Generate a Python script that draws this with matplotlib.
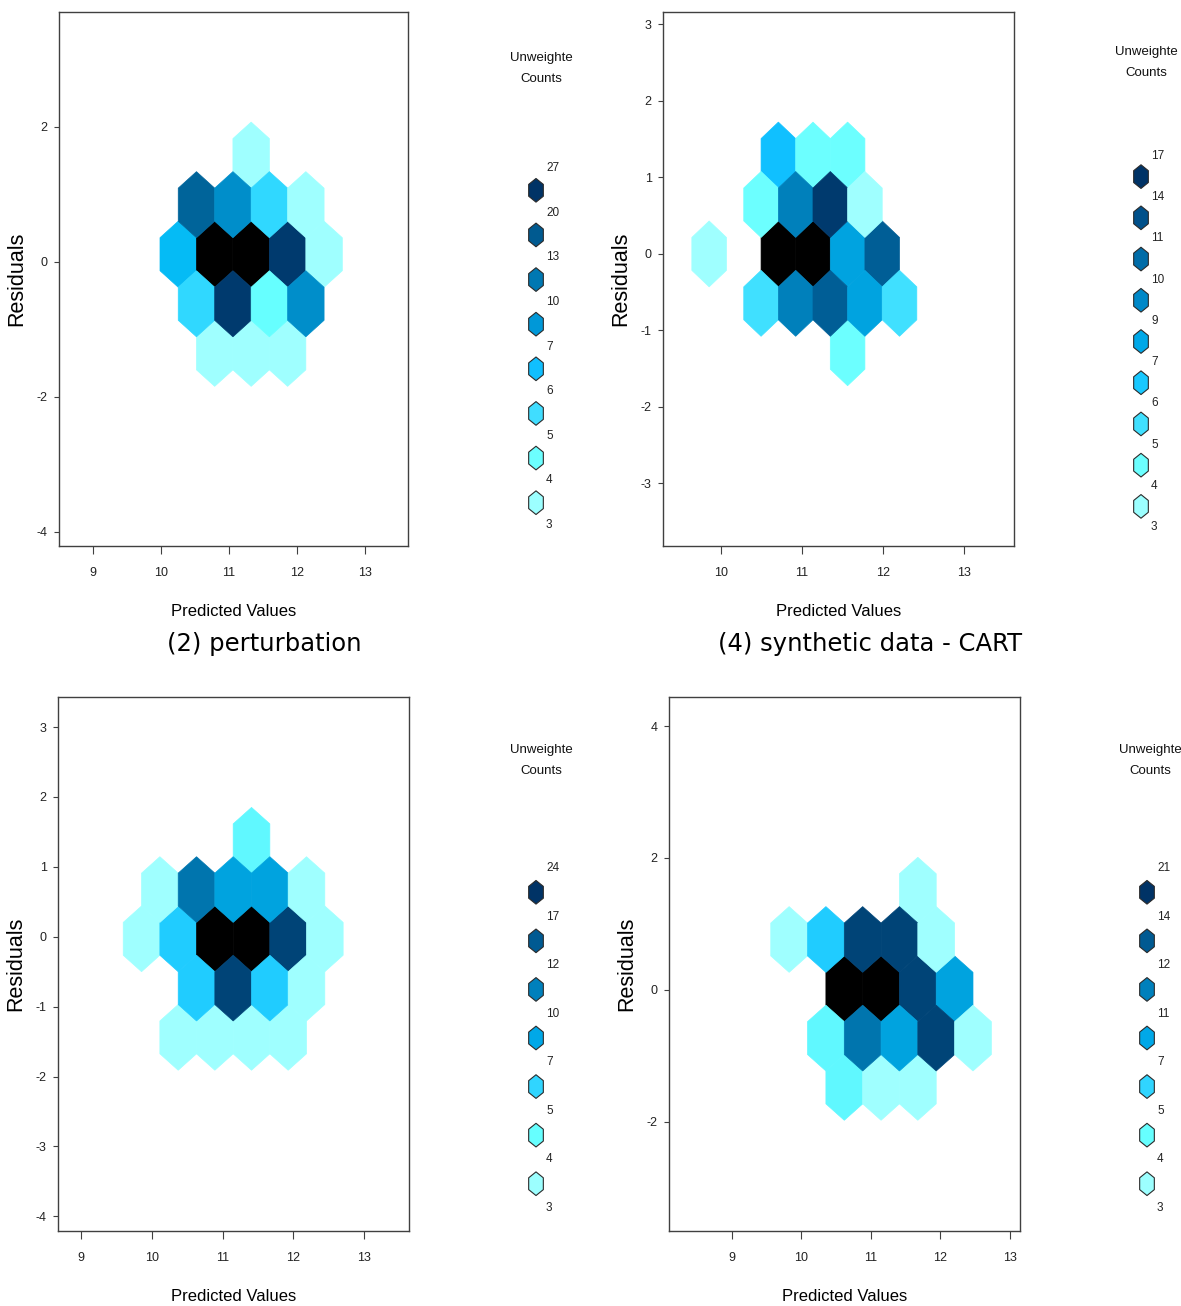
import numpy as np
import matplotlib
matplotlib.use('Agg')
import matplotlib.pyplot as plt
from matplotlib.colors import ListedColormap, BoundaryNorm
from matplotlib.path import Path
from matplotlib import font_manager

# (2) perturbation: hex cell centres (predicted value, residual) and counts
pert_pred = [11.33,
             10.53, 11.07, 11.60, 12.14,
             10.26, 10.80, 11.33, 11.87, 12.41,
             10.53, 11.07, 11.60, 12.14,
             10.80, 11.33, 11.87]
pert_resid = [1.58,
              0.85, 0.85, 0.85, 0.85,
              0.11, 0.11, 0.11, 0.11, 0.11,
              -0.62, -0.62, -0.62, -0.62,
              -1.36, -1.36, -1.36]
pert_count = [3,
              11, 8, 5, 3,
              6, 27, 24, 16, 3,
              5, 16, 4, 8,
              3, 3, 3]
pert_breaks = [3, 4, 5, 6, 7, 10, 13, 20, 27]

# (4) synthetic data - CART
cart_pred = [10.71, 11.14, 11.57,
             10.50, 10.93, 11.35, 11.78,
             9.86, 10.71, 11.14, 11.57, 11.99,
             10.50, 10.93, 11.35, 11.78, 12.20,
             11.57]
cart_resid = [1.29, 1.29, 1.29,
              0.65, 0.65, 0.65, 0.65,
              0.0, 0.0, 0.0, 0.0, 0.0,
              -0.65, -0.65, -0.65, -0.65, -0.65,
              -1.29]
cart_count = [6, 4, 4,
              4, 9, 12, 3,
              3, 17, 15, 8, 10,
              5, 9, 10, 8, 5,
              4]
cart_breaks = [3, 4, 5, 6, 7, 9, 10, 11, 14, 17]

# bottom left
bl_pred = [11.41,
           10.11, 10.63, 11.15, 11.67, 12.18,
           9.85, 10.37, 10.89, 11.41, 11.93, 12.44,
           10.63, 11.15, 11.67, 12.18,
           10.37, 10.89, 11.41, 11.93]
bl_resid = [1.38,
            0.67, 0.67, 0.67, 0.67, 0.67,
            -0.03, -0.03, -0.03, -0.03, -0.03, -0.03,
            -0.74, -0.74, -0.74, -0.74,
            -1.44, -1.44, -1.44, -1.44]
bl_count = [4,
            3, 11, 8, 8, 3,
            3, 6, 24, 20, 14, 3,
            6, 14, 6, 3,
            3, 3, 3, 3]
bl_breaks = [3, 4, 5, 7, 10, 12, 17, 24]

# bottom right
br_pred = [11.68,
           9.83, 10.36, 10.88, 11.41, 11.94,
           10.62, 11.15, 11.68, 12.21,
           10.36, 10.88, 11.41, 11.94, 12.47,
           10.62, 11.15, 11.68]
br_resid = [1.51,
            0.77, 0.77, 0.77, 0.77, 0.77,
            0.02, 0.02, 0.02, 0.02,
            -0.73, -0.73, -0.73, -0.73, -0.73,
            -1.48, -1.48, -1.48]
br_count = [3,
            3, 6, 13, 13, 3,
            21, 18, 13, 9,
            4, 11, 9, 13, 3,
            4, 3, 3]
br_breaks = [3, 4, 5, 7, 11, 12, 14, 21]

# colour ramps, light to dark (cells / key)
pert_cols = ['#9FFFFF', '#66FFFF', '#30D8FF', '#05BBF5', '#008ECA', '#00649A', '#003A6E', '#000000']
pert_key = ['#9CFFFF', '#6CFFFF', '#40DDFF', '#10BFFF', '#0098D8', '#0078B2', '#005A90', '#003366']
cart_cols = ['#9FFFFF', '#6CFFFF', '#40E0FF', '#10C0FF', '#00A3E0', '#0080BB', '#005E96', '#003A6E', '#000000']
cart_key = ['#9CFFFF', '#6CFFFF', '#40E0FF', '#18C8FF', '#00A8E8', '#0088C8', '#006CA8', '#00508A', '#003366']
low_cols = ['#9FFFFF', '#60F8FF', '#20CCFF', '#00A3DF', '#0075AE', '#004477', '#000000']
low_key = ['#9CFFFF', '#66FFFF', '#30D5FF', '#00A8E8', '#0080BC', '#005A92', '#003366']

W, H = 1181, 1306
plt.rcParams['axes.unicode_minus'] = False
have = {f.name for f in font_manager.fontManager.ttflist}
NARROW = 'Liberation Sans Narrow' if 'Liberation Sans Narrow' in have else 'Liberation Sans'


def px_rect(l, t, r, b):
    return [l / W, 1 - b / H, (r - l) / W, (b - t) / H]


hexmark = Path([(0, 1), (0.62, 0.5), (0.62, -0.5), (0, -1), (-0.62, -0.5), (-0.62, 0.5), (0, 1)],
               closed=True)

panels = [
    dict(x=pert_pred, y=pert_resid, n=pert_count, breaks=pert_breaks, cols=pert_cols, key=pert_key,
         rect=(59, 12, 408, 546), xlim=(8.50, 13.64), ylim=(-4.21, 3.70),
         xt=[9, 10, 11, 12, 13], yt=[-4, -2, 0, 2], w=0.537, r=0.734,
         kx=536, ktop=168, kbot=525, title=(541, 68)),
    dict(x=cart_pred, y=cart_resid, n=cart_count, breaks=cart_breaks, cols=cart_cols, key=cart_key,
         rect=(663, 12, 1014, 546), xlim=(9.29, 13.61), ylim=(-3.82, 3.16),
         xt=[10, 11, 12, 13], yt=[-3, -2, -1, 0, 1, 2, 3], w=0.426, r=0.646,
         kx=1141, ktop=156, kbot=527, title=(1146, 63)),
    dict(x=bl_pred, y=bl_resid, n=bl_count, breaks=bl_breaks, cols=low_cols, key=low_key,
         rect=(58, 697, 409, 1231), xlim=(8.67, 13.64), ylim=(-4.21, 3.43),
         xt=[9, 10, 11, 12, 13], yt=[-4, -3, -2, -1, 0, 1, 2, 3], w=0.519, r=0.705,
         kx=536, ktop=868, kbot=1208, title=(541, 760)),
    dict(x=br_pred, y=br_resid, n=br_count, breaks=br_breaks, cols=low_cols, key=low_key,
         rect=(669, 697, 1020, 1231), xlim=(8.10, 13.15), ylim=(-3.66, 4.44),
         xt=[9, 10, 11, 12, 13], yt=[-2, 0, 2, 4], w=0.529, r=0.748,
         kx=1147, ktop=868, kbot=1208, title=(1150, 760)),
]

fig = plt.figure(figsize=(W / 100, H / 100), dpi=100)

for p in panels:
    ax = fig.add_axes(px_rect(*p['rect']))
    x = np.asarray(p['x'])
    y = np.asarray(p['y'])
    w, sy = p['w'], 2 * p['r']
    # hex lattice anchored on the first cell
    x0 = x[0] - 20 * w
    y0 = y[0] - 10 * sy
    cmap = ListedColormap(p['cols'])
    norm = BoundaryNorm(p['breaks'], cmap.N, clip=True)
    ax.hexbin(x, y, C=p['n'], reduce_C_function=np.sum, gridsize=(40, 20),
              extent=(x0, x0 + 40 * w, y0, y0 + 20 * sy),
              cmap=cmap, norm=norm, linewidths=0.5, edgecolors='face')
    ax.set_xlim(*p['xlim'])
    ax.set_ylim(*p['ylim'])
    ax.set_xticks(p['xt'])
    ax.set_yticks(p['yt'])
    for s in ax.spines.values():
        s.set_color('#404040')
        s.set_linewidth(1.0)
    ax.tick_params(axis='x', length=5.8, width=0.8, color='#404040', pad=9.5,
                   labelsize=9, labelcolor='#222222')
    ax.tick_params(axis='y', length=3.6, width=0.8, color='#404040', pad=4.5,
                   labelsize=9, labelcolor='#222222')
    for lab in ax.get_xticklabels() + ax.get_yticklabels():
        lab.set_family(NARROW)
    ax.set_xlabel('Predicted Values', family=NARROW, fontsize=12, va='center')
    ax.xaxis.set_label_coords(0.5, -0.122)
    ax.set_ylabel('Residuals', family='Liberation Sans', fontsize=15.5, va='center')
    ax.yaxis.set_label_coords(-0.12, 0.5)

    # colour key
    nk = len(p['key'])
    kx = p['kx']
    lax = fig.add_axes(px_rect(kx - 20, p['ktop'], kx + 40, p['kbot']))
    lax.set_xlim(-20, 40)
    lax.set_ylim(nk, 0)
    lax.axis('off')
    lax.scatter(np.zeros(nk), np.arange(nk) + 0.5, s=290, marker=hexmark,
                c=p['key'][::-1], edgecolors='#2b2b2b', linewidths=0.8, clip_on=False)
    for k, b in enumerate(p['breaks'][::-1]):
        lax.text(10, k, str(b), family=NARROW, fontsize=8.5, color='#222222',
                 ha='left', va='center', clip_on=False)
    tx, ty = p['title']
    fig.text(tx / W, 1 - ty / H, 'Unweighte\nCounts', family=NARROW, fontsize=9.5,
             ha='center', va='center', linespacing=2.0, color='#111111')

fig.text(264.5 / W, 1 - 644 / H, '(2) perturbation', fontsize=17.5, ha='center', va='center')
fig.text(870 / W, 1 - 644 / H, '(4) synthetic data - CART', fontsize=17.5, ha='center', va='center')

fig.savefig('out.png', dpi=100)
